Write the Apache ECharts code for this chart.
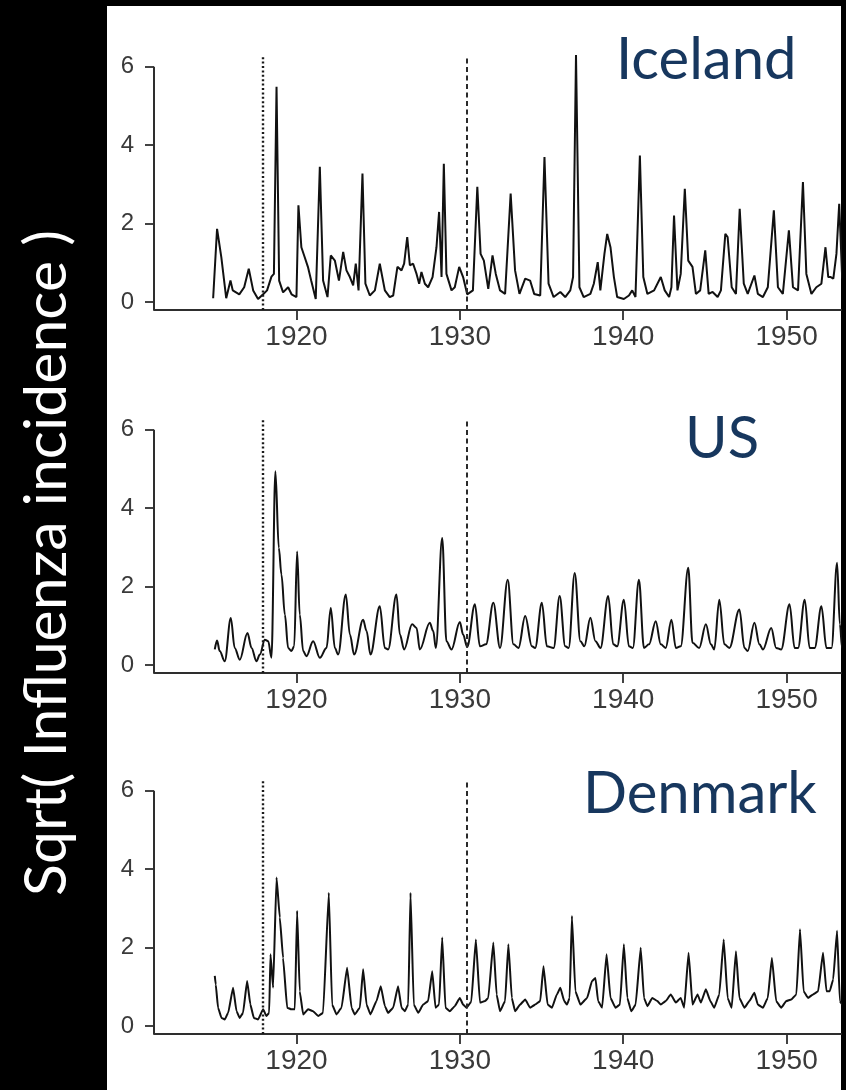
<!DOCTYPE html>
<html><head><meta charset="utf-8">
<script src="https://cdn.jsdelivr.net/npm/echarts@6/dist/echarts.min.js"></script>
<style>html,body{margin:0;padding:0;background:#000;}#c{width:846px;height:1090px;}</style>
</head><body><div id="c"></div>
<script>
const countries = ['Iceland', 'US', 'Denmark'];
const yAxisTitle = 'Sqrt( Influenza incidence )';

const icelandYears = [1914.9,1915.14,1915.4,1915.7,1915.96,1916.1,1916.5,1916.8,1917.08,1917.35,1917.65,1917.96,1918.2,1918.47,1918.62,1918.78,1918.94,1919.18,1919.49,1919.7,1920.0,1920.12,1920.3,1920.5,1920.7,1920.9,1921.18,1921.43,1921.63,1921.9,1922.1,1922.35,1922.6,1922.86,1923.06,1923.27,1923.47,1923.63,1923.8,1924.04,1924.22,1924.49,1924.8,1925.1,1925.41,1925.71,1925.92,1926.18,1926.43,1926.59,1926.78,1926.94,1927.14,1927.35,1927.51,1927.65,1927.86,1928.06,1928.33,1928.57,1928.73,1928.88,1929.02,1929.18,1929.49,1929.69,1929.96,1930.2,1930.45,1930.8,1931.07,1931.27,1931.47,1931.74,1932.0,1932.2,1932.46,1932.77,1933.11,1933.38,1933.65,1934.0,1934.3,1934.55,1934.92,1935.18,1935.43,1935.74,1936.15,1936.45,1936.76,1936.93,1937.11,1937.32,1937.58,1937.99,1938.2,1938.44,1938.6,1938.85,1939.02,1939.22,1939.43,1939.63,1940.04,1940.35,1940.55,1940.75,1941.02,1941.23,1941.48,1941.89,1942.3,1942.54,1942.81,1942.95,1943.11,1943.32,1943.52,1943.77,1943.98,1944.24,1944.45,1944.71,1945.02,1945.23,1945.47,1945.78,1945.98,1946.25,1946.39,1946.64,1946.9,1947.13,1947.38,1947.62,1948.03,1948.24,1948.55,1948.85,1949.22,1949.47,1949.77,1950.14,1950.39,1950.7,1951.0,1951.21,1951.52,1951.82,1952.13,1952.38,1952.55,1952.7,1952.86,1953.05,1953.22,1953.4,1953.6];
const icelandValues = [0.1,1.87,1.15,0.1,0.55,0.3,0.2,0.38,0.85,0.3,0.08,0.2,0.3,0.65,0.72,5.49,0.55,0.25,0.38,0.2,0.13,2.47,1.4,1.15,0.9,0.55,0.08,3.45,0.55,0.13,1.19,1.06,0.55,1.28,0.81,0.64,0.43,0.98,0.3,3.28,0.47,0.17,0.3,0.98,0.3,0.13,0.17,0.9,0.81,0.98,1.66,0.94,0.98,0.72,0.47,0.77,0.47,0.38,0.64,1.4,2.3,0.64,3.53,0.72,0.3,0.38,0.9,0.64,0.2,0.3,2.94,1.23,1.06,0.34,1.19,0.72,0.3,0.21,2.77,0.81,0.21,0.6,0.55,0.21,0.17,3.7,0.47,0.13,0.26,0.13,0.3,0.64,6.3,0.38,0.13,0.21,0.47,1.02,0.3,1.23,1.74,1.4,0.64,0.13,0.08,0.17,0.3,0.13,3.74,0.64,0.21,0.3,0.64,0.3,0.13,0.38,2.21,0.3,0.72,2.89,1.06,0.9,0.21,0.3,1.32,0.21,0.26,0.13,0.3,1.74,1.66,0.38,0.21,2.38,0.47,0.21,0.68,0.21,0.13,0.38,2.34,0.38,0.21,1.83,0.38,0.3,3.06,0.72,0.21,0.38,0.47,1.4,0.64,0.64,0.6,1.23,2.51,0.64,0.4];

const usYears = [1915.0,1915.14,1915.3,1915.61,1915.98,1916.22,1916.53,1917.0,1917.25,1917.55,1917.76,1918.06,1918.27,1918.47,1918.71,1918.92,1919.08,1919.29,1919.49,1919.69,1919.86,1920.04,1920.2,1920.41,1920.61,1921.02,1921.43,1921.84,1922.1,1922.35,1922.55,1923.02,1923.27,1923.53,1924.08,1924.29,1924.53,1925.1,1925.41,1925.61,1926.12,1926.33,1926.59,1927.08,1927.35,1927.55,1928.16,1928.37,1928.53,1928.92,1929.18,1929.49,1930.0,1930.2,1930.45,1930.92,1931.23,1931.6,1932.05,1932.46,1932.93,1933.28,1933.59,1934.0,1934.41,1934.61,1935.02,1935.33,1935.74,1936.11,1936.45,1936.66,1937.03,1937.38,1937.62,1937.99,1938.3,1938.61,1939.08,1939.39,1939.63,1940.04,1940.35,1940.59,1940.96,1941.27,1941.58,1941.99,1942.3,1942.6,1942.95,1943.22,1943.52,1943.98,1944.24,1944.65,1945.06,1945.37,1945.57,1945.88,1946.19,1946.5,1947.11,1947.42,1947.62,1948.03,1948.34,1948.55,1949.06,1949.36,1949.67,1950.18,1950.49,1950.7,1951.11,1951.41,1951.72,1952.13,1952.44,1952.75,1953.09,1953.26,1953.4,1953.6];
const usValues = [0.4,0.63,0.36,0.1,1.2,0.44,0.14,0.82,0.44,0.1,0.27,0.65,0.61,0.19,4.94,2.99,2.31,1.29,0.44,0.36,0.48,2.9,1.29,0.36,0.23,0.61,0.19,0.44,1.46,0.44,0.27,1.8,0.78,0.27,1.16,0.87,0.27,1.5,0.44,0.4,1.8,0.78,0.4,1.04,0.95,0.4,1.08,0.87,0.44,3.24,0.61,0.4,1.1,0.78,0.46,1.55,0.48,0.53,1.59,0.44,2.18,0.53,0.44,1.25,0.48,0.44,1.59,0.48,0.44,1.76,0.48,0.44,2.35,0.61,0.48,1.21,0.61,0.44,1.76,0.53,0.48,1.67,0.48,0.44,2.18,0.44,0.53,1.12,0.53,0.44,1.16,0.44,0.48,2.48,0.57,0.44,1.04,0.53,0.4,1.67,0.53,0.44,1.42,0.44,0.36,1.08,0.53,0.4,0.95,0.44,0.4,1.55,0.44,0.44,1.67,0.44,0.44,1.5,0.44,0.44,2.61,1.04,0.44,0.4];

const denmarkYears = [1915.0,1915.06,1915.2,1915.41,1915.61,1915.82,1916.12,1916.33,1916.53,1916.73,1916.98,1917.18,1917.39,1917.65,1917.96,1918.16,1918.33,1918.41,1918.57,1918.78,1918.98,1919.18,1919.43,1919.69,1919.9,1920.04,1920.2,1920.41,1920.71,1921.02,1921.33,1921.63,1921.98,1922.18,1922.45,1922.76,1923.1,1923.37,1923.57,1923.88,1924.08,1924.29,1924.53,1924.9,1925.16,1925.41,1925.61,1925.92,1926.22,1926.43,1926.63,1926.84,1926.98,1927.18,1927.45,1927.76,1928.06,1928.31,1928.51,1928.73,1928.92,1929.12,1929.39,1929.69,1930.0,1930.2,1930.41,1930.7,1930.98,1931.23,1931.54,1931.74,1932.05,1932.25,1932.46,1932.77,1932.97,1933.18,1933.38,1933.69,1934.0,1934.3,1934.61,1934.92,1935.12,1935.37,1935.64,1935.94,1936.15,1936.39,1936.56,1936.72,1936.86,1937.07,1937.38,1937.79,1938.09,1938.3,1938.46,1938.71,1938.98,1939.22,1939.53,1939.8,1940.04,1940.25,1940.49,1940.76,1941.07,1941.27,1941.48,1941.78,1942.09,1942.3,1942.6,1942.91,1943.22,1943.52,1943.73,1944.0,1944.24,1944.55,1944.75,1945.06,1945.33,1945.57,1945.88,1946.15,1946.39,1946.64,1946.9,1947.11,1947.42,1947.72,1948.03,1948.24,1948.55,1948.85,1949.1,1949.36,1949.67,1949.98,1950.29,1950.6,1950.82,1951.04,1951.31,1951.62,1951.93,1952.23,1952.44,1952.64,1952.85,1953.09,1953.26,1953.4,1953.6];
const denmarkValues = [1.28,1.06,0.47,0.21,0.17,0.34,0.98,0.38,0.21,0.34,1.15,0.55,0.21,0.17,0.43,0.26,0.34,1.83,0.98,3.79,2.77,1.74,0.47,0.43,0.43,2.94,0.89,0.3,0.43,0.38,0.26,0.34,3.4,0.55,0.3,0.47,1.49,0.47,0.3,0.47,1.45,0.55,0.3,0.64,1.02,0.51,0.34,0.47,1.02,0.47,0.38,0.55,3.4,0.55,0.34,0.55,0.64,1.4,0.47,0.55,2.26,0.47,0.38,0.51,0.72,0.55,0.47,0.62,2.21,0.6,0.64,0.72,2.13,0.81,0.38,0.64,2.09,0.72,0.38,0.55,0.68,0.47,0.55,0.64,1.53,0.55,0.47,0.81,0.98,0.64,0.55,0.72,2.81,0.89,0.55,0.72,1.15,1.23,0.64,0.47,1.83,0.72,0.47,0.55,2.09,0.72,0.38,0.55,2.0,0.72,0.51,0.72,0.64,0.55,0.64,0.81,0.6,0.72,0.47,1.87,0.55,0.81,0.6,0.94,0.64,0.47,0.81,2.21,0.72,0.47,1.91,0.72,0.47,0.64,0.85,0.55,0.47,0.72,1.74,0.64,0.47,0.64,0.68,0.81,2.47,0.89,0.72,0.81,0.89,1.87,0.89,0.89,1.19,2.43,0.64,0.55,0.6];

const xTickValues = [1920, 1930, 1940, 1950];
const yTickValues = [0, 2, 4, 6];
const pandemicLineYear = 1917.95;   // dotted reference line
const dashedLineYear = 1930.4;      // dashed reference line

const seriesYears = [icelandYears, usYears, denmarkYears];
const seriesValues = [icelandValues, usValues, denmarkValues];
const seriesSmooth = [0, 0.35, 0.12];

// layout
const xMin = 1911.28, xMax = 1953.33, yMin = -0.2, yMax = 6.3;
const gridTops = [55, 418, 779];
const gridH = 255;
const labelPos = [[616, 60], [685, 439], [583, 794]];

const zip = (a, b) => a.map((v, i) => [v, b[i]]);

const grids = [], xAxes = [], yAxes = [], series = [];
countries.forEach((name, i) => {
  grids.push({ left: 154, right: 5, top: gridTops[i], height: gridH, containLabel: false });
  xAxes.push({
    gridIndex: i, type: 'value', min: xMin, max: xMax,
    axisLine: { show: true, onZero: false, lineStyle: { color: '#2e2e2e', width: 2 } },
    axisTick: { show: true, length: 10, customValues: xTickValues, lineStyle: { color: '#2e2e2e', width: 1.8 } },
    axisLabel: { customValues: xTickValues, fontSize: 28, color: '#3a3a3a', fontFamily: 'Liberation Sans, Arial', margin: 13, formatter: v => String(v) },
    splitLine: { show: false }
  });
  yAxes.push({
    gridIndex: i, type: 'value', min: yMin, max: yMax,
    axisLine: { show: false },
    axisTick: { show: true, length: 9, customValues: yTickValues, lineStyle: { color: '#2e2e2e', width: 1.8 } },
    axisLabel: { customValues: yTickValues, fontSize: 24, color: '#3a3a3a', fontFamily: 'Liberation Sans, Arial', margin: 20 },
    splitLine: { show: false }
  });
  series.push({
    name: name, type: 'line', xAxisIndex: i, yAxisIndex: i,
    data: zip(seriesYears[i], seriesValues[i]),
    showSymbol: false, symbol: 'none', clip: true, animation: false,
    smooth: seriesSmooth[i], smoothMonotone: 'x',
    lineStyle: { color: '#111111', width: 2 },
    markLine: {
      silent: true, symbol: ['none', 'none'], animation: false, label: { show: false },
      data: [
        [{ coord: [xMin, yMin], lineStyle: { type: 'solid', color: '#2e2e2e', width: 2 } },
         { coord: [xMin, yTickValues[yTickValues.length - 1]], lineStyle: { type: 'solid', color: '#2e2e2e', width: 2 } }],
        { xAxis: pandemicLineYear, lineStyle: { type: [2, 2.4], color: '#1a1a1a', width: 2.4 } },
        { xAxis: dashedLineYear, lineStyle: { type: [5, 3.5], color: '#2a2a2a', width: 2 } }
      ]
    }
  });
});

const graphics = [
  { type: 'rect', z: -10, shape: { x: 107, y: 6, width: 734, height: 1084 }, style: { fill: '#ffffff' } },
  { type: 'text', x: 47, y: 563, rotation: Math.PI / 2,
    style: { text: yAxisTitle, fill: '#ffffff', font: '59px Lato', fontSize: 59, fontFamily: 'Lato',
             textAlign: 'center', textVerticalAlign: 'middle', align: 'center', verticalAlign: 'middle' } }
];
countries.forEach((name, i) => {
  graphics.push({ type: 'text', x: labelPos[i][0], y: labelPos[i][1],
    style: { text: name, fill: '#17375E', font: '58px Lato', fontSize: 58, fontFamily: 'Lato',
             textAlign: 'left', textVerticalAlign: 'middle', align: 'left', verticalAlign: 'middle' } });
});

const chart = echarts.init(document.getElementById('c'), null, { renderer: 'canvas' });
chart.setOption({
  backgroundColor: '#000000',
  animation: false,
  grid: grids, xAxis: xAxes, yAxis: yAxes, series: series,
  graphic: { elements: graphics }
});
</script></body></html>
